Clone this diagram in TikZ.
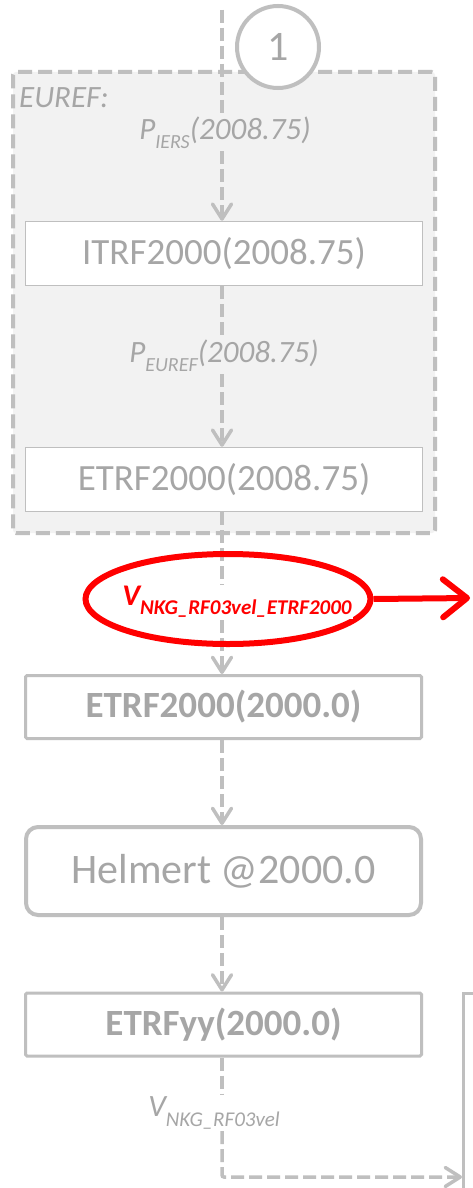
\documentclass[tikz,border=0pt]{standalone}
\usepackage{fontspec}
\setmainfont{Carlito}
\usetikzlibrary{arrows.meta,shapes.geometric}
\definecolor{txtgray}{HTML}{A6A6A6}
\definecolor{linegray}{HTML}{BFBFBF}
\definecolor{boxfill}{HTML}{F2F2F2}
\definecolor{myred}{HTML}{FF0000}
\newcommand{\fs}[1]{\fontsize{#1}{#1}\selectfont}
\newcommand{\mysub}[2]{\raisebox{-0.3em}{\fs{#1}#2}}
\begin{document}
\begin{tikzpicture}[x=1pt,y=-1pt,
  conn/.style={draw=linegray, line width=3.5pt, dash pattern=on 13pt off 5pt},
  arr/.style={conn, -{Straight Barb[length=15pt,width=19pt,round]}},
  plainbox/.style={draw=linegray, line width=1.5pt, fill=white, minimum width=397pt, minimum height=64pt, text=txtgray, font=\fs{37}, inner sep=0pt},
  boldbox/.style={draw=linegray, line width=3pt, fill=white, rounded corners=1.5pt, minimum width=396pt, minimum height=63pt, text=txtgray, font=\fs{37}\bfseries, inner sep=0pt},
  helmbox/.style={draw=linegray, line width=4pt, fill=white, rounded corners=12pt, minimum width=395pt, minimum height=88pt, text=txtgray, font=\fs{42}, inner sep=0pt},
  eurefbox/.style={draw=linegray, line width=4pt, fill=boxfill, rounded corners=3pt, dash pattern=on 14pt off 6pt, minimum width=422pt, minimum height=461pt, inner sep=0pt},
  lbl/.style={text=txtgray, font=\fs{31}\itshape, inner sep=2pt},
  circ/.style={circle, draw=linegray, line width=4pt, fill=white, minimum size=82pt, inner sep=0pt, text=txtgray, font=\fs{42}}
]
\useasboundingbox (0,0) rectangle (473,1188);
\clip (0,0) rectangle (473,1188);
\fill[white] (0,0) rectangle (473,1188);

\node[eurefbox] (euref) at (224,302.5) {};
\node[lbl, anchor=west] (eureflbl) at (17,98) {EUREF:};
\node[circ] (one) at (278,47) {1};
\coordinate (top) at (222,10);

\node[lbl] (piers) at (225,133) {P\mysub{20}{IERS}(2008.75)};
\node[plainbox] (itrf) at (224,253.5) {ITRF2000(2008.75)};
\node[lbl] (peuref) at (224,356) {P\mysub{20}{EUREF}(2008.75)};
\node[plainbox] (etrf1) at (224,479.5) {ETRF2000(2008.75)};
\node[boldbox] (etrf2) at (223.5,707) {ETRF2000(2000.0)};
\node[helmbox] (helm) at (223.5,871) {Helmert @2000.0};
\node[boldbox] (etrfyy) at (223.5,1024.5) {ETRFyy(2000.0)};
\node[lbl] (vnkg) at (214,1113) {V\mysub{21}{NKG\_RF03vel}};
\coordinate (rb) at (462,1177);
\draw[draw=linegray, line width=3pt] (463.5,993.5) rectangle (540,1260);

% connectors
\draw[conn] (top) -- (top |- piers.north);
\draw[arr] (top |- piers.south) -- (top |- itrf.north);
\draw[conn] (top |- itrf.south) -- (top |- peuref.north);
\draw[arr] (top |- peuref.south) -- (top |- etrf1.north);
\draw[arr] (top |- etrf1.south) -- (top |- etrf2.north);
\draw[arr] (top |- etrf2.south) -- (top |- helm.north);
\draw[arr] (top |- helm.south) -- (top |- etrfyy.north);
\draw[conn] (top |- etrfyy.south) -- (top |- vnkg.north);
\draw[arr, rounded corners=2pt] (top |- vnkg.south) |- (rb);

% red velocity ellipse
\node[ellipse, draw=myred, line width=6pt, minimum width=285pt, minimum height=90pt, inner sep=0pt] (vel) at (228,599) {};
\node[fill=white, inner sep=1pt, text=myred, font=\fs{30}\bfseries\itshape] (veltxt) at (237,602) {V\mysub{21}{NKG\_RF03vel\_ETRF2000}};
\coordinate (redend) at (470,598);
\draw[myred, line width=6pt, -{Straight Barb[length=24pt,width=38pt,round]}] (vel.east) -- (redend);
\end{tikzpicture}
\end{document}
